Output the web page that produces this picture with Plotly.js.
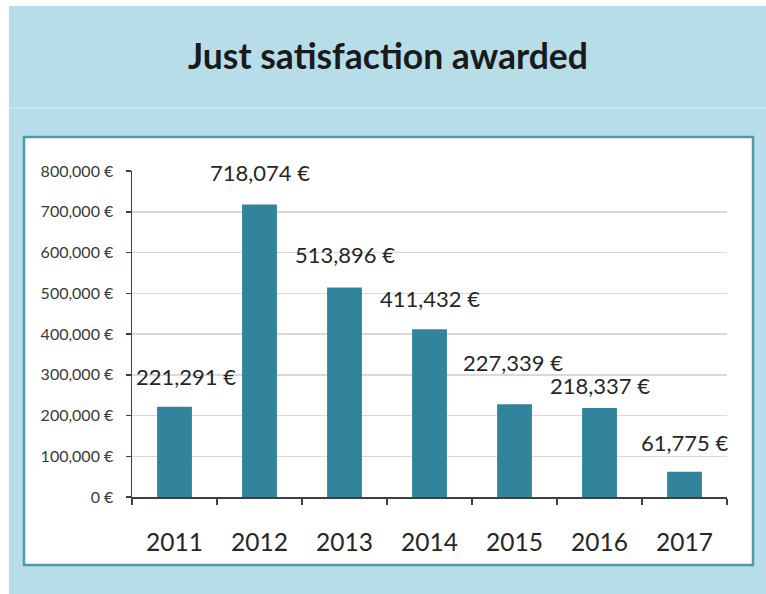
<!DOCTYPE html>
<html>
<head>
<meta charset="utf-8">
<script src="https://cdn.plot.ly/plotly-3.0.1.min.js"></script>
<style>
  html, body { margin: 0; padding: 0; background: #ffffff; }
  #chart { width: 766px; height: 594px; }
</style>
</head>
<body>
<div id="chart"></div>
<script>
const years = ['2011', '2012', '2013', '2014', '2015', '2016', '2017'];
const awarded = [221291, 718074, 513896, 411432, 227339, 218337, 61775];
const yTicks = [0, 100000, 200000, 300000, 400000, 500000, 600000, 700000, 800000];
const chartTitle = 'Just satisfaction awarded';

(function () {
  const figW = 766, figH = 594;
  const pL = 132, pR = 727, pT = 171, pB = 497;
  const toPx = function (x) { return (x - pL) / (pR - pL); };
  const toPy = function (y) { return (pB - y) / (pB - pT); };
  const euro = function (v) {
    return v.toString().replace(/\B(?=(\d{3})+(?!\d))/g, ',') + ' €';
  };
  const fontFam = 'Lato, "Open Sans", sans-serif';
  // label placement offsets (pixels) above each bar, as in the reference
  const labelLift = [30, 32, 33, 31, 42, 23, 29];
  const labelNudge = [11, 0, 0, 0, -2, 0, 0];

  const trace = {
    type: 'bar',
    x: years,
    y: awarded,
    marker: { color: '#31849b' },
    hoverinfo: 'skip'
  };

  // on a category axis, annotations use the category's serial number
  const annotations = years.map(function (yr, i) {
    return {
      x: i, y: awarded[i], xref: 'x', yref: 'y',
      text: euro(awarded[i]),
      showarrow: false,
      yanchor: 'middle', xanchor: 'center',
      yshift: labelLift[i],
      xshift: labelNudge[i],
      font: { family: fontFam, size: 22, color: '#262626' }
    };
  });

  const shapes = [
    { type: 'rect', xref: 'paper', yref: 'paper', layer: 'below',
      x0: toPx(9), x1: toPx(766), y0: toPy(594), y1: toPy(6),
      fillcolor: '#b7dde8', line: { width: 0 } },
    { type: 'line', xref: 'paper', yref: 'paper', layer: 'below',
      x0: toPx(9), x1: toPx(766), y0: toPy(108), y1: toPy(108),
      line: { color: '#cde8f0', width: 1.5 } },
    { type: 'rect', xref: 'paper', yref: 'paper', layer: 'below',
      x0: toPx(24), x1: toPx(753), y0: toPy(565), y1: toPy(137),
      fillcolor: '#ffffff', line: { color: '#4f98ae', width: 2.5 } }
  ];

  const layout = {
    width: figW, height: figH,
    margin: { l: pL, r: figW - pR, t: pT, b: figH - pB, pad: 0 },
    paper_bgcolor: '#ffffff',
    plot_bgcolor: 'rgba(0,0,0,0)',
    showlegend: false,
    bargap: 0.59,
    title: {
      text: '<b>' + chartTitle + '</b>',
      font: { family: fontFam, size: 35.5, color: '#1a1a1a' },
      xref: 'paper', x: toPx(388), xanchor: 'center',
      yref: 'container', y: 1 - 57 / figH, yanchor: 'middle'
    },
    xaxis: {
      type: 'category',
      range: [-0.5, years.length - 0.5],
      autorange: false,
      showline: true, linecolor: '#404040', linewidth: 1.5,
      ticks: 'outside', ticklen: 6, tickwidth: 1.5, tickcolor: '#404040',
      tickson: 'boundaries',
      showgrid: false, zeroline: false,
      ticklabelstandoff: 23,
      tickangle: 0,
      tickfont: { family: fontFam, size: 24.5, color: '#262626' }
    },
    yaxis: {
      range: [0, 800000],
      autorange: false,
      tickmode: 'array',
      tickvals: yTicks,
      ticktext: yTicks.map(euro),
      showline: true, linecolor: '#404040', linewidth: 1.5,
      ticks: 'outside', ticklen: 5, tickwidth: 1.5, tickcolor: '#404040',
      showgrid: true, gridcolor: '#d9d9d9', gridwidth: 1.5,
      zeroline: false,
      ticklabelstandoff: 9,
      tickfont: { family: fontFam, size: 16, color: '#3a3a3a' }
    },
    annotations: annotations,
    shapes: shapes
  };

  Plotly.newPlot('chart', [trace], layout, { displayModeBar: false, staticPlot: true });
})();
</script>
</body>
</html>
